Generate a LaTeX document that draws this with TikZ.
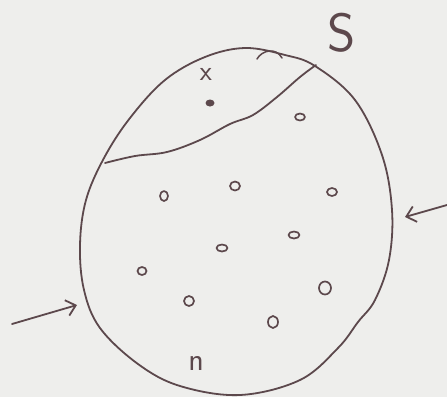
\documentclass[tikz,border=0pt]{standalone}
\usetikzlibrary{arrows.meta}
\definecolor{ink}{RGB}{92,72,76}
\definecolor{paper}{RGB}{238,238,236}
\begin{document}
\begin{tikzpicture}[x=1pt,y=-1pt,
  pen/.style={draw=ink,line width=1.8pt,line cap=round,line join=round},
  pebble/.style={pen,line width=1.7pt},
  lab/.style={text=ink,font=\sffamily}]
\fill[paper] (0,0) rectangle (447,397);
\useasboundingbox (0,0) rectangle (447,397);
% outline
\draw[pen] plot[smooth cycle,tension=0.6] coordinates {
 (245,48) (285,55) (315,66) (355,100) (382,155) (392,210) (389,260)
 (375,300) (358,322) (338,348) (300,380) (240,395) (180,386) (138,364)
 (100,328) (84,290) (80,245) (86,200) (104,158) (130,118) (165,80) (205,57)};
% boundary line
\draw[pen] plot[smooth,tension=0.6] coordinates {
 (105,163) (135,156) (167,152) (200,140) (230,124) (253,115) (277,97) (300,77) (316,65)};
% small hump mark
\draw[pen,line width=1.5pt] (257,59) .. controls (262,50) and (276,47) .. (282,58);
% point
\fill[ink] (210,103) ellipse (4.5pt and 3.5pt);
\node[lab,font=\sffamily\fontsize{28}{28}\selectfont] (xl) at (206,74) {x};
\node[lab,font=\sffamily\fontsize{54}{54}\selectfont] (sl) at (342,33) {S};
\node[lab,font=\sffamily\fontsize{32}{32}\selectfont] (nl) at (196,363) {n};
% pebbles
\foreach \p/\a/\b in {(300,117)/5/3.5,(164,196)/4/5,(235,186)/5/4.5,(332,192)/5/4,
  (222,248)/5.5/3.5,(294,235)/5.5/3.5,(142,271)/4.5/4,(189,301)/5/5,(325,288)/6/6.5,(273,322)/5/6}
  \draw[pebble] \p ellipse (\a pt and \b pt);
% arrows
\coordinate (la) at (12,324);
\coordinate (lb) at (77,305);
\coordinate (ra) at (447,205);
\coordinate (rb) at (405,217);
\draw[pen,-{Straight Barb[length=9pt,width=16pt,line width=1.8pt]}] (la) -- (lb);
\draw[pen,-{Straight Barb[length=9pt,width=16pt,line width=1.8pt]}] (ra) -- (rb);
\end{tikzpicture}
\end{document}
